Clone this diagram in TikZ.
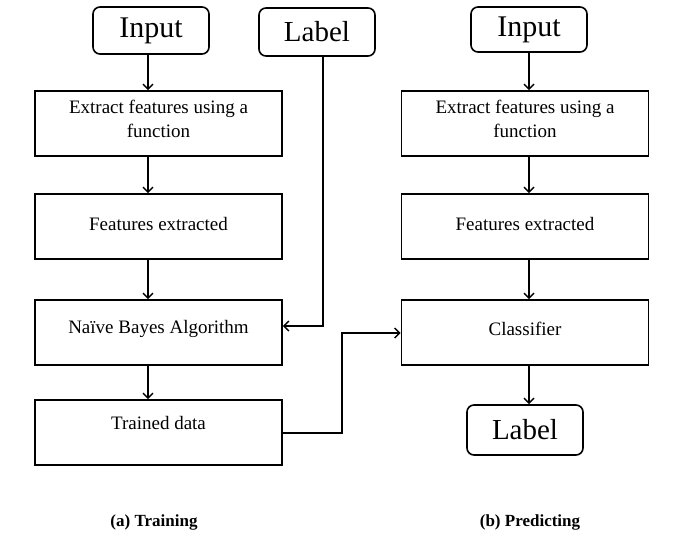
\documentclass[tikz,border=0pt]{standalone}
\usepackage{fontspec}
\setmainfont{Liberation Serif}
\usetikzlibrary{arrows.meta}
\begin{document}
\begin{tikzpicture}[x=1pt,y=-1pt,
  box/.style={draw,line width=1.6pt,minimum width=247pt,minimum height=65pt,inner sep=0pt},
  term/.style={draw,line width=1.6pt,rounded corners=7pt,minimum width=116pt,minimum height=47pt,inner sep=0pt,font=\fontsize{29}{30}\selectfont},
  arr/.style={line width=1.6pt,-{Straight Barb[length=5pt,width=10pt,line width=1.4pt]}},
  txt/.style={font=\fontsize{19}{24}\selectfont,align=center},
  captxt/.style={font=\fontsize{17}{18}\selectfont\bfseries}]
\useasboundingbox (0,0) rectangle (676,536);
% left column
\node[term,font=\fontsize{30}{30}\selectfont] (in1) at (151,30.5) {Input};
\node[term,minimum height=48pt] (lab1) at (317,32) {Label};
\node[box] (ex1) at (158.5,123.5) {};
\node[txt] (ex1t) at (158.5,119) {Extract features using a\\function};
\node[box] (fe1) at (158.5,226.5) {};
\node[txt] (fe1t) at (158.5,224) {Features extracted};
\node[box] (nb) at (158.5,332.5) {};
\node[txt] (nbt) at (158.5,329) {Naïve Bayes Algorithm};
\node[box] (td) at (158.5,432.5) {};
\node[txt] (tdt) at (158.5,423) {Trained data};
% right column
\node[term,minimum height=45pt,font=\fontsize{30}{30}\selectfont] (in2) at (529,29.5) {Input};
\node[box] (ex2) at (525,123.5) {};
\node[txt] (ex2t) at (525,119) {Extract features using a\\function};
\node[box] (fe2) at (525,226.5) {};
\node[txt] (fe2t) at (525,224) {Features extracted};
\node[box] (cl) at (525,332.5) {};
\node[txt] (clt) at (525,329) {Classifier};
\node[term,minimum height=50pt] (lab2) at (525,430) {Label};
% connectors
\coordinate (xl) at (148,0);
\coordinate (xr) at (529,0);
\draw[arr] (in1.south -| xl) -- (ex1.north -| xl);
\draw[arr] (ex1.south -| xl) -- (fe1.north -| xl);
\draw[arr] (fe1.south -| xl) -- (nb.north -| xl);
\draw[arr] (nb.south -| xl) -- (td.north -| xl);
\coordinate (lb) at (323,326);
\draw[arr] (lab1.south -| lb) -- (lb) -- (lb -| nb.east);
\coordinate (mid1) at (342,433);
\coordinate (mid2) at (342,333);
\draw[arr] (td.east |- mid1) -- (mid1) -- (mid2) -- (cl.west |- mid2);
\draw[arr] (in2.south -| xr) -- (ex2.north -| xr);
\draw[arr] (ex2.south -| xr) -- (fe2.north -| xr);
\draw[arr] (fe2.south -| xr) -- (cl.north -| xr);
\draw[arr] (cl.south -| xr) -- (lab2.north -| xr);
% captions
\node[captxt] (c1) at (154,522) {(a) Training};
\node[captxt] (c2) at (530,522) {(b) Predicting};
\end{tikzpicture}
\end{document}
